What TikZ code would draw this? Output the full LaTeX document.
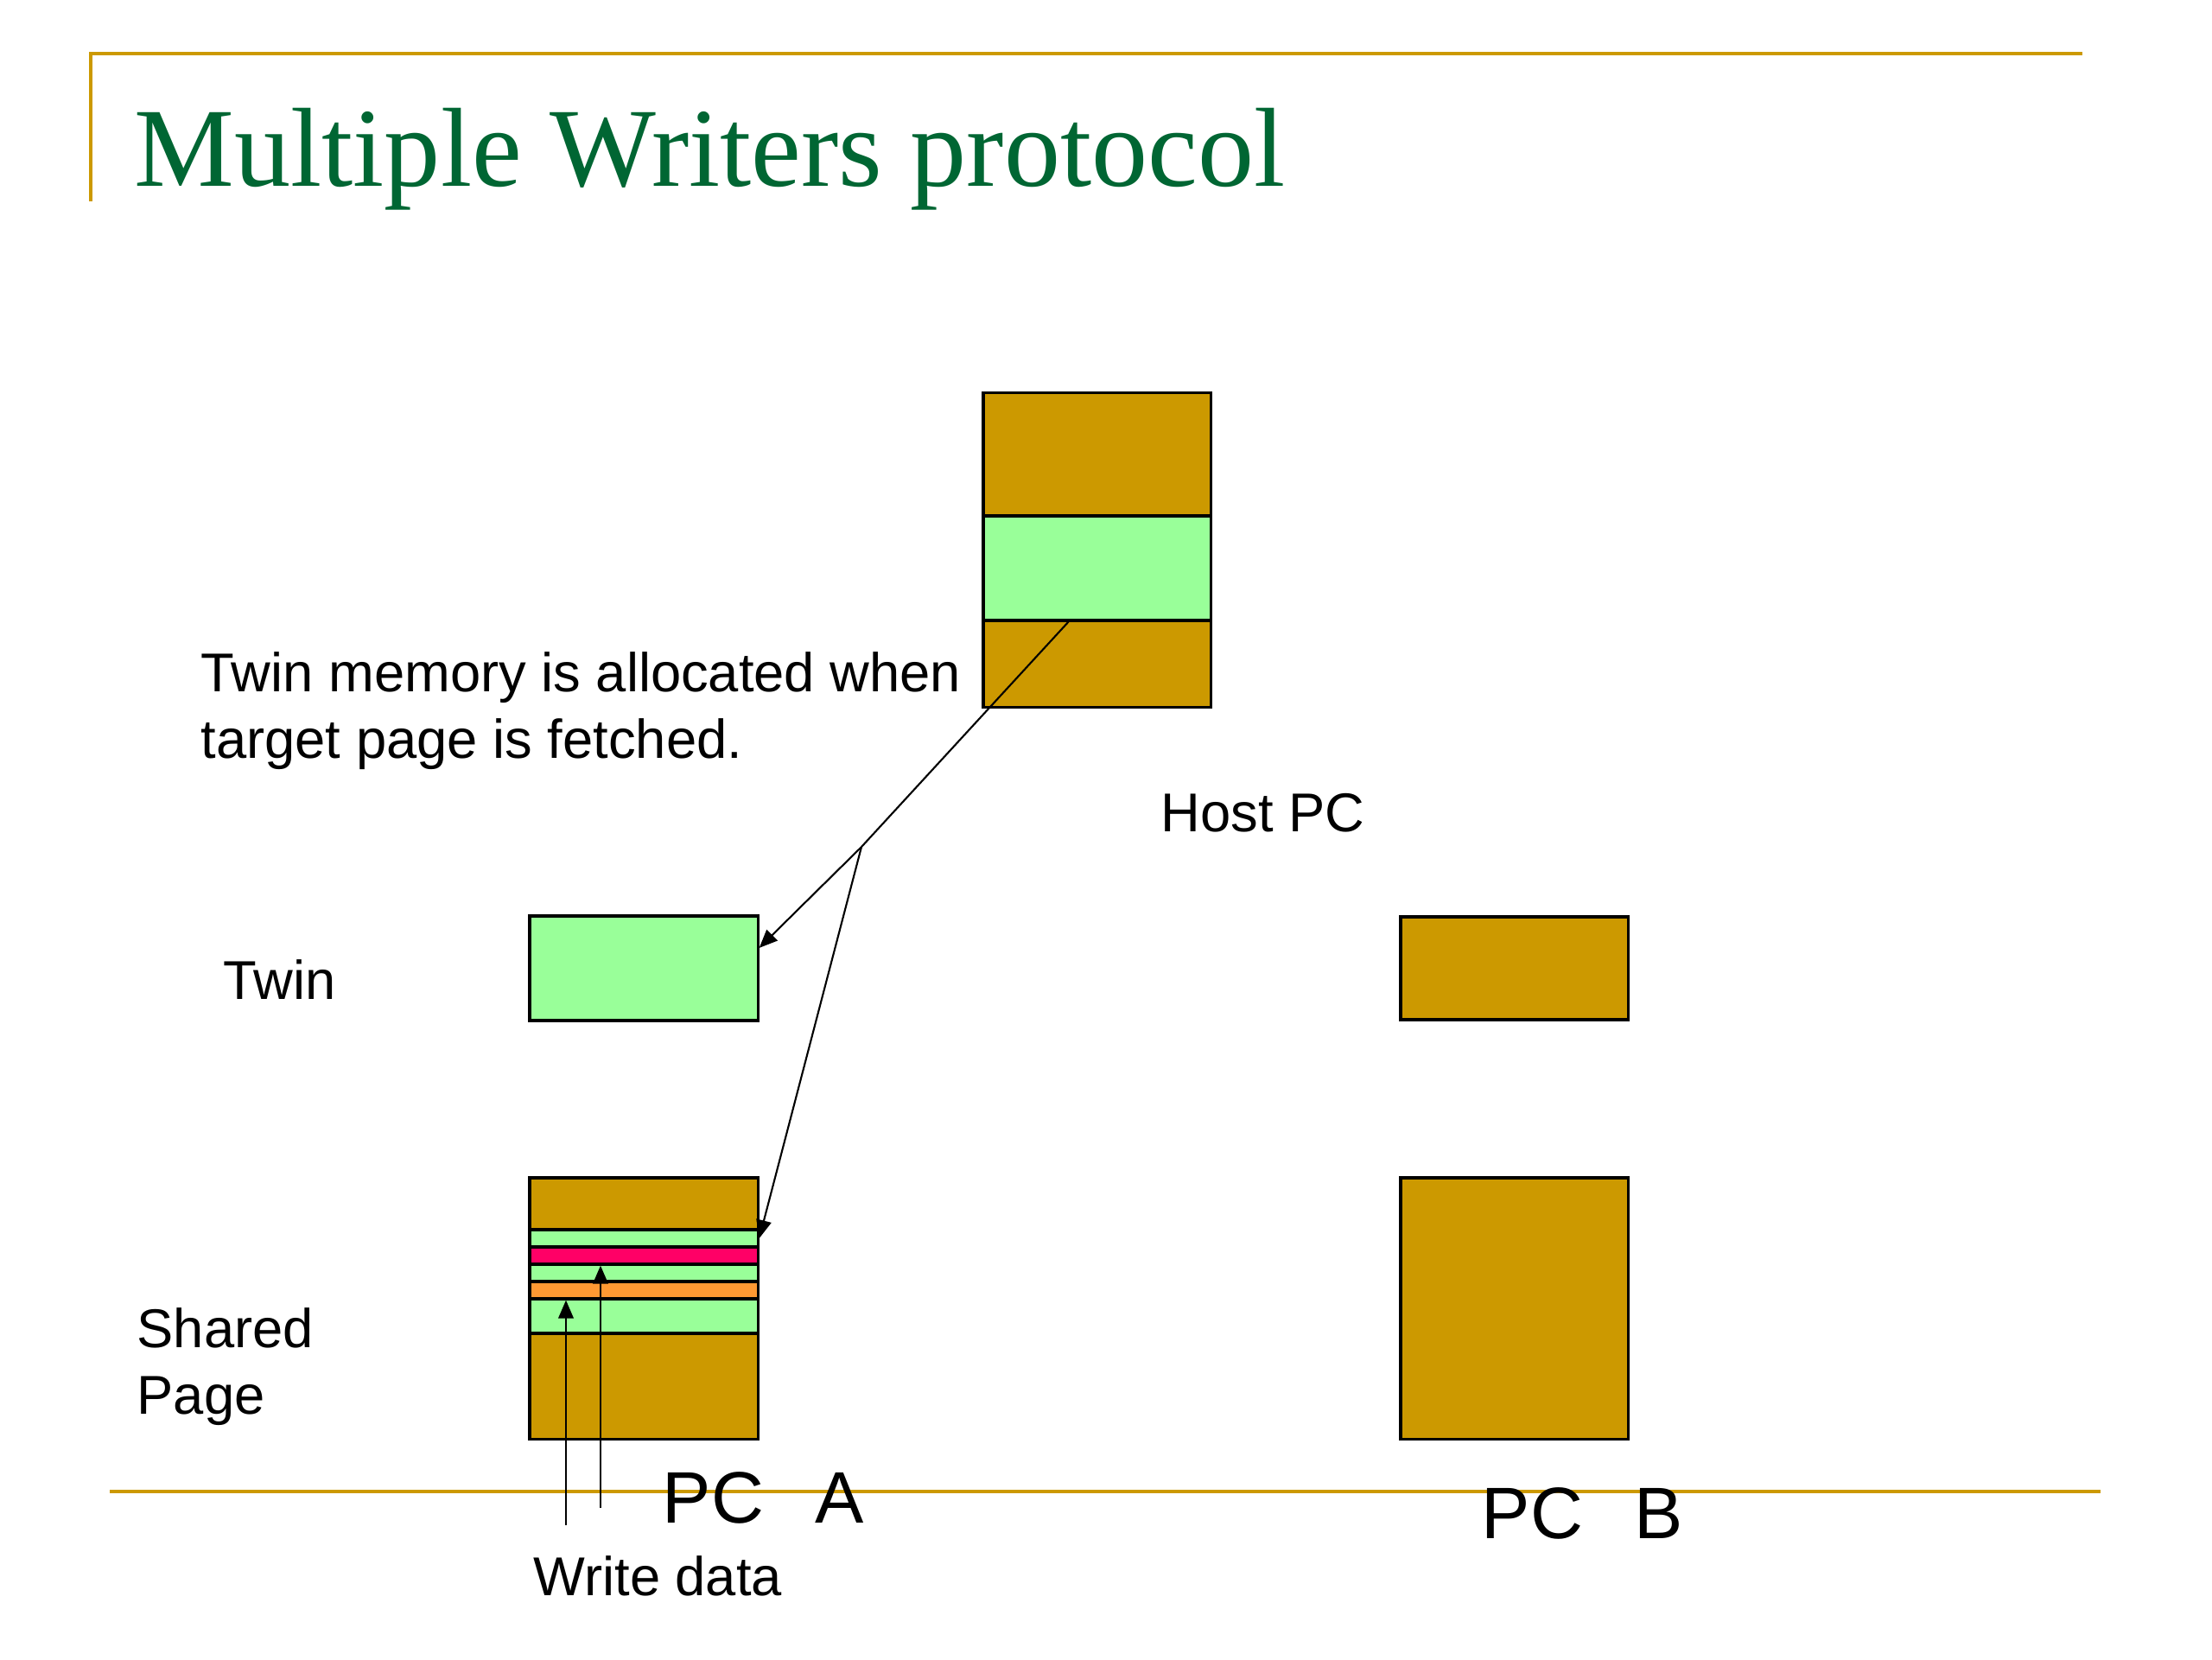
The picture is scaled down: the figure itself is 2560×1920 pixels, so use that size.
\documentclass[tikz,border=0pt]{standalone}
\usepackage{fontspec}
\setmainfont{Liberation Sans}
\newfontfamily\titlefont{Liberation Serif}
\usetikzlibrary{arrows.meta,calc}

\definecolor{gold}{RGB}{204,153,0}
\definecolor{lgreen}{RGB}{153,255,153}
\definecolor{wred}{RGB}{255,0,102}
\definecolor{worange}{RGB}{255,153,51}
\definecolor{titlegreen}{RGB}{0,102,51}

\tikzset{
  page/.style={draw, line width=0.9pt, fill=gold, inner sep=0pt, minimum width=2.63cm},
  band/.style={draw, line width=0.9pt, inner sep=0pt, minimum width=2.64cm},
  label/.style={inner sep=0pt, anchor=base west, font=\fontsize{18}{22}\selectfont},
  biglabel/.style={inner sep=0pt, anchor=base west, font=\fontsize{24}{28}\selectfont},
  link/.style={line width=0.6pt, -{Triangle[length=6pt,width=5pt]}},
  rule/.style={draw=gold, line width=1.2pt}
}

\begin{document}
\begin{tikzpicture}[x=0.01cm, y=-0.01cm]
    \path[use as bounding box] (0,0) rectangle (2560,1920);

    \draw[rule] (105,233) -- (105,62) -- (2410,62);
    \draw[rule] (127,1726) -- (2431,1726);

    \node[inner sep=0pt, anchor=base west, text=titlegreen,
          font=\titlefont\fontsize{37}{44}\selectfont] (title) at (155,215) {Multiple Writers protocol};

    % host page
    \node[page, minimum height=3.63cm] (host) at (1269.5,636.5) {};
    \node[band, fill=lgreen, minimum width=2.63cm, minimum height=1.21cm] (hostband) at (1269.5,657.5) {};

    % PC A
    \node[band, fill=lgreen, minimum height=1.21cm] (twinA) at (745,1120.5) {};
    \node[page, minimum width=2.64cm, minimum height=3.02cm] (pageA) at (745,1514) {};
    \foreach \n/\top/\bot/\col in {1/1423/1443/lgreen, 2/1443/1463/wred, 3/1463/1483/lgreen,
                                   4/1483/1503/worange, 5/1503/1543/lgreen}
        \node[band, fill=\col, minimum height={(\bot-\top)*0.01cm}] (s\n) at (745,{(\top+\bot)/2}) {};

    % PC B
    \node[page, minimum height=1.19cm] (twinB) at (1752.5,1120.5) {};
    \node[page, minimum height=3.02cm] (pageB) at (1752.5,1514) {};

    \coordinate (split) at (997,980);
    \draw[line width=0.6pt] ($(hostband.south west)!0.376!(hostband.south east)$) -- (split);
    \draw[link] (split) -- ($(twinA.north east)!0.31!(twinA.south east)$);
    \draw[link] (split) -- (s1.east);

    \coordinate (wd1) at (655,1765);
    \coordinate (wd2) at (695,1745);
    \draw[link] (wd1) -- (wd1 |- s4.south);
    \draw[link] (wd2) -- (wd2 |- s2.south);

    \node[inner sep=0pt, anchor=north west, align=left, font=\fontsize{18}{22}\selectfont] (note) at (232,754)
        {Twin memory is allocated when\\target page is fetched.};
    \node[label] (hostlbl) at (1343,962) {Host PC};
    \node[label] (twinlbl) at (258,1156) {Twin};
    \node[inner sep=0pt, anchor=north west, align=left, font=\fontsize{18}{22}\selectfont] (sharedlbl) at (158,1513)
        {Shared\\Page};
    \node[biglabel] (pca) at (766,1762) {PC\hspace{17pt}A};
    \node[biglabel] (pcb) at (1714,1780) {PC\hspace{17pt}B};
    \node[label] (wdlbl) at (617,1846) {Write data};
\end{tikzpicture}
\end{document}
